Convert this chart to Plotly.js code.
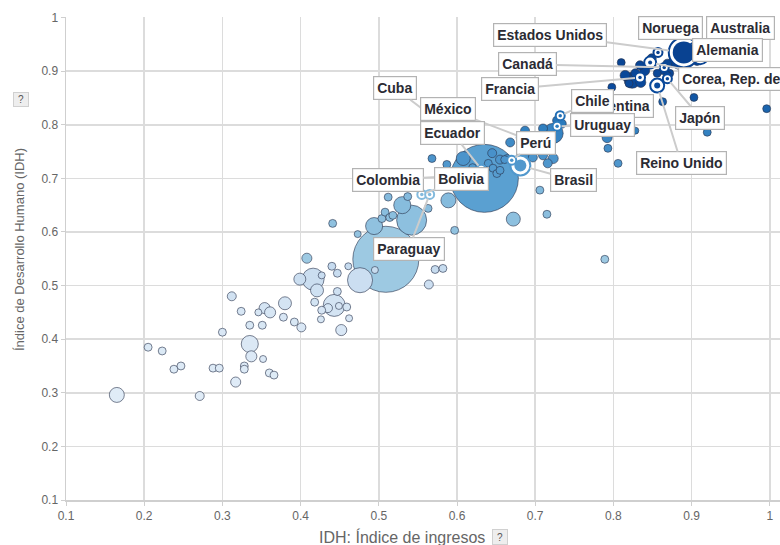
<!DOCTYPE html>
<html>
<head>
<meta charset="utf-8">
<script src="https://cdn.plot.ly/plotly-3.0.1.min.js"></script>
<style>
  html, body { margin: 0; padding: 0; background: #fff; }
  #chart { width: 780px; height: 545px; }
</style>
</head>
<body>
<div id="chart"></div>
<script>
// ---------- DATA ----------
// Unlabelled countries: income index (x), HDI (y), population (millions, bubble size)
const incomeIdx = [
  0.165,0.271,0.205,0.223,0.238,0.247,0.288,0.296,0.300,0.312,0.324,0.335,0.351,0.335,0.337,0.328,0.328,0.317,0.352,0.360,
  0.366,0.346,0.354,0.361,0.380,0.378,0.392,0.401,0.408,0.399,0.416,0.427,0.421,0.447,0.440,0.447,0.461,0.418,0.443,0.435,
  0.427,0.449,0.459,0.462,0.426,0.452,0.476,0.495,0.509,0.564,0.572,0.582,0.441,0.473,0.494,0.542,0.504,0.508,0.514,0.518,
  0.530,0.563,0.512,0.537,0.597,0.589,0.672,0.715,0.789,0.706,0.635,0.568,0.587,0.608,0.620,0.645,0.655,0.640,0.646,0.651,
  0.668,0.687,0.690,0.697,0.710,0.723,0.716,0.723,0.710,0.710,0.664,0.806,0.792,0.793,0.728,0.734,0.828,0.920,0.863,0.903,
  0.996,0.798,0.810,0.834,0.869,0.876,0.883,0.863,0.872,0.824,0.815,0.828,0.856,0.869,0.840,0.849,0.907,0.820,0.835,0.661,
  0.655
];
const hdi = [
  0.296,0.294,0.385,0.378,0.344,0.350,0.346,0.346,0.413,0.480,0.452,0.426,0.426,0.391,0.368,0.350,0.344,0.320,0.363,0.337,
  0.333,0.450,0.458,0.450,0.467,0.441,0.432,0.422,0.551,0.512,0.512,0.519,0.491,0.489,0.536,0.523,0.536,0.469,0.463,0.458,
  0.454,0.462,0.460,0.439,0.437,0.417,0.510,0.529,0.549,0.502,0.530,0.532,0.616,0.596,0.611,0.622,0.625,0.637,0.627,0.631,
  0.650,0.644,0.665,0.666,0.603,0.659,0.624,0.633,0.549,0.678,0.700,0.737,0.726,0.737,0.720,0.747,0.735,0.728,0.719,0.709,
  0.767,0.789,0.743,0.739,0.743,0.737,0.728,0.784,0.793,0.761,0.737,0.728,0.776,0.756,0.808,0.802,0.789,0.786,0.843,0.851,
  0.830,0.870,0.916,0.911,0.914,0.916,0.911,0.901,0.896,0.883,0.892,0.896,0.896,0.892,0.901,0.924,0.920,0.877,0.879,0.735,
  0.715
];
const population = [
  64,23,18,18,18,18,18,18,18,23,18,18,18,83,35,18,18,29,14,18,
  18,14,35,35,48,18,18,23,29,41,138,14,48,18,18,18,14,18,138,23,
  18,14,18,14,14,35,179,14,1245,23,18,18,18,14,83,257,18,18,18,18,
  83,18,18,18,18,64,56,18,18,18,1320,18,18,56,18,23,23,18,18,18,
  23,23,29,23,23,29,23,114,23,41,18,18,29,18,23,23,14,18,18,18,
  18,18,18,23,23,29,18,18,18,73,29,23,18,18,29,23,29,18,29,18,
  18
];

// Highlighted (labelled) countries
const hlCountry = ["Estados Unidos","Noruega","Australia","Alemania","Canadá","Francia","Corea, Rep. de","Japón",
  "Reino Unido","Argentina","Chile","Uruguay","México","Perú","Cuba","Ecuador","Brasil","Colombia","Bolivia","Paraguay"];
const hlIncome = [0.890,0.857,0.904,0.911,0.865,0.834,0.847,0.869,0.856,0.808,0.732,0.728,0.684,0.670,0.585,0.631,0.681,0.617,0.555,0.565];
const hlHdi    = [0.935,0.935,0.944,0.929,0.907,0.888,0.916,0.886,0.873,0.845,0.817,0.797,0.776,0.734,0.797,0.717,0.724,0.706,0.670,0.670];
const hlPop    = [257,18,29,83,23,29,41,18,56,23,18,14,41,23,18,18,114,23,14,14];

// Tick values
const xTicks = [0.1,0.2,0.3,0.4,0.5,0.6,0.7,0.8,0.9,1];
const yTicks = [0.1,0.2,0.3,0.4,0.5,0.6,0.7,0.8,0.9,1];

// ---------- STYLE / LAYOUT ----------
// label box offsets in pixels (label centre relative to the country's bubble), drawing order
const labelPos = {
  "Cuba":[-50,-38,true], "México":[-74.5,-28.5,true], "Ecuador":[-29,-36.5,true], "Perú":[24,-17.5,true],
  "Colombia":[-82.5,4.5,true], "Bolivia":[40,-15.5,true], "Paraguay":[-21,54.5,true], "Brasil":[53,14.5,true],
  "Argentina":[-3,5,false], "Chile":[32.5,-15,true], "Uruguay":[45,-1.5,true],
  "Estados Unidos":[-133.5,-17.5,true], "Canadá":[-137,-3,true], "Francia":[-129.5,11.5,true],
  "Noruega":[13,-24.5,false], "Australia":[45.5,-19.5,false], "Alemania":[27.5,-5.5,false],
  "Corea, Rep. de":[81,16,true], "Japón":[33,39,true], "Reino Unido":[24,77.5,true]
};

const colorscale = [
  [0, '#e6f0f9'],
  [0.3125, '#d7e6f4'],
  [0.42, '#c6dbef'],
  [0.425, '#9fcae2'],
  [0.605, '#80b8dc'],
  [0.6125, '#5ea3d3'],
  [0.7125, '#3f8ac6'],
  [0.75, '#2b7bbd'],
  [0.80, '#165ea9'],
  [0.84, '#0a4a9c'],
  [1, '#083a85']
];
const cmin = 0.2, cmax = 1.0;
const SIZEREF = 0.571;   // area mode: diameter ≈ sqrt(3.5*pop)

// draw big bubbles first
const order = population.map((p,i)=>i).sort((a,b)=>population[b]-population[a]);
const bx = order.map(i=>incomeIdx[i]), by = order.map(i=>hdi[i]), bp = order.map(i=>population[i]);

const bubbles = {
  type:'scatter', mode:'markers', x:bx, y:by, hoverinfo:'skip',
  marker:{
    size:bp, sizemode:'area', sizeref:SIZEREF, sizemin:3.5, opacity:1,
    color:by, colorscale:colorscale, cmin:cmin, cmax:cmax, showscale:false,
    line:{width:1, color:'rgba(40,50,75,0.6)'}
  }
};

const hlOrder = hlPop.map((p,i)=>i).sort((a,b)=>hlPop[b]-hlPop[a]);
const hx = hlOrder.map(i=>hlIncome[i]), hy = hlOrder.map(i=>hlHdi[i]), hp = hlOrder.map(i=>hlPop[i]);
const ringOuter = {
  type:'scatter', mode:'markers', x:hx, y:hy, hoverinfo:'skip',
  marker:{
    size:hp, sizemode:'area', sizeref:SIZEREF, sizemin:4.5, opacity:1,
    color:'#ffffff',
    line:{width:2, color:hy, colorscale:colorscale, cmin:cmin, cmax:cmax}
  }
};
const ringInner = {
  type:'scatter', mode:'markers', x:hx, y:hy, hoverinfo:'skip',
  marker:{
    size:hp.map(p=>Math.max(3.5, Math.sqrt(3.5*p)-8)), opacity:1,
    color:hy, colorscale:colorscale, cmin:cmin, cmax:cmax, showscale:false,
    line:{width:0}
  }
};

const annotations = [];
Object.keys(labelPos).forEach(name=>{
  const i = hlCountry.indexOf(name);
  const [ax, ay, showLine] = labelPos[name];
  const d = Math.max(9, Math.sqrt(3.5*hlPop[i]));
  annotations.push({
    x:hlIncome[i], y:hlHdi[i], xref:'x', yref:'y',
    text:name, showarrow:true, arrowhead:0, arrowwidth:2,
    arrowcolor: showLine ? '#cccccc' : 'rgba(0,0,0,0)',
    standoff: d/2, ax:ax, ay:ay,
    bgcolor:'#ffffff', bordercolor:'#b3b3b3', borderwidth:1.2, borderpad:3,
    font:{family:'Liberation Sans, Arial, sans-serif', size:14, color:'#2b2b33', weight:'bold'}
  });
});

// axis titles with "?" boxes
annotations.push({
  xref:'paper', yref:'paper', x:(401.5-66)/714, y:0, yshift:-37, xanchor:'center', yanchor:'middle', showarrow:false,
  text:'IDH: Índice de ingresos', font:{family:'Arial, Liberation Sans, sans-serif', size:16, color:'#666'}
});
annotations.push({
  xref:'paper', yref:'paper', x:(500-66)/714, y:0, yshift:-37, xanchor:'center', yanchor:'middle', showarrow:false,
  text:'?', width:11, height:11, borderpad:1.5, bgcolor:'#eeeeee', bordercolor:'#d0d0d0', borderwidth:1,
  font:{family:'Arial, sans-serif', size:10, color:'#555'}
});
annotations.push({
  xref:'paper', yref:'paper', x:0, xshift:-47, y:(500-250)/483, xanchor:'center', yanchor:'middle', showarrow:false, textangle:-90,
  text:'Índice de Desarrollo Humano (IDH)', font:{family:'Arial, Liberation Sans, sans-serif', size:13, color:'#666'}
});
annotations.push({
  xref:'paper', yref:'paper', x:0, xshift:-45, y:(500-99)/483, xanchor:'center', yanchor:'middle', showarrow:false,
  text:'?', width:11, height:10, borderpad:1.5, bgcolor:'#eeeeee', bordercolor:'#d0d0d0', borderwidth:1,
  font:{family:'Arial, sans-serif', size:10, color:'#555'}
});

const axisCommon = {
  showgrid:true, gridcolor:'#dcdcdc', gridwidth:1.5, zeroline:false,
  showline:true, linecolor:'#cfcfcf', linewidth:1.5,
  ticks:'outside', ticklen:4, tickcolor:'#cfcfcf', tickwidth:1,
  tickfont:{family:'Arial, Liberation Sans, sans-serif', size:12, color:'#666'},
  tickmode:'array'
};

const layout = {
  width:780, height:545,
  margin:{l:66, r:0, t:17, b:45, pad:0},
  paper_bgcolor:'#ffffff', plot_bgcolor:'#ffffff',
  showlegend:false, hovermode:false,
  xaxis:Object.assign({}, axisCommon, {range:[0.1, 0.1+714/782], tickvals:xTicks, ticktext:xTicks.map(String)}),
  yaxis:Object.assign({}, axisCommon, {range:[0.1, 1.001], tickvals:yTicks, ticktext:yTicks.map(String)}),
  annotations:annotations
};

Plotly.newPlot('chart', [bubbles, ringOuter, ringInner], layout, {displayModeBar:false, staticPlot:true});
</script>
</body>
</html>
